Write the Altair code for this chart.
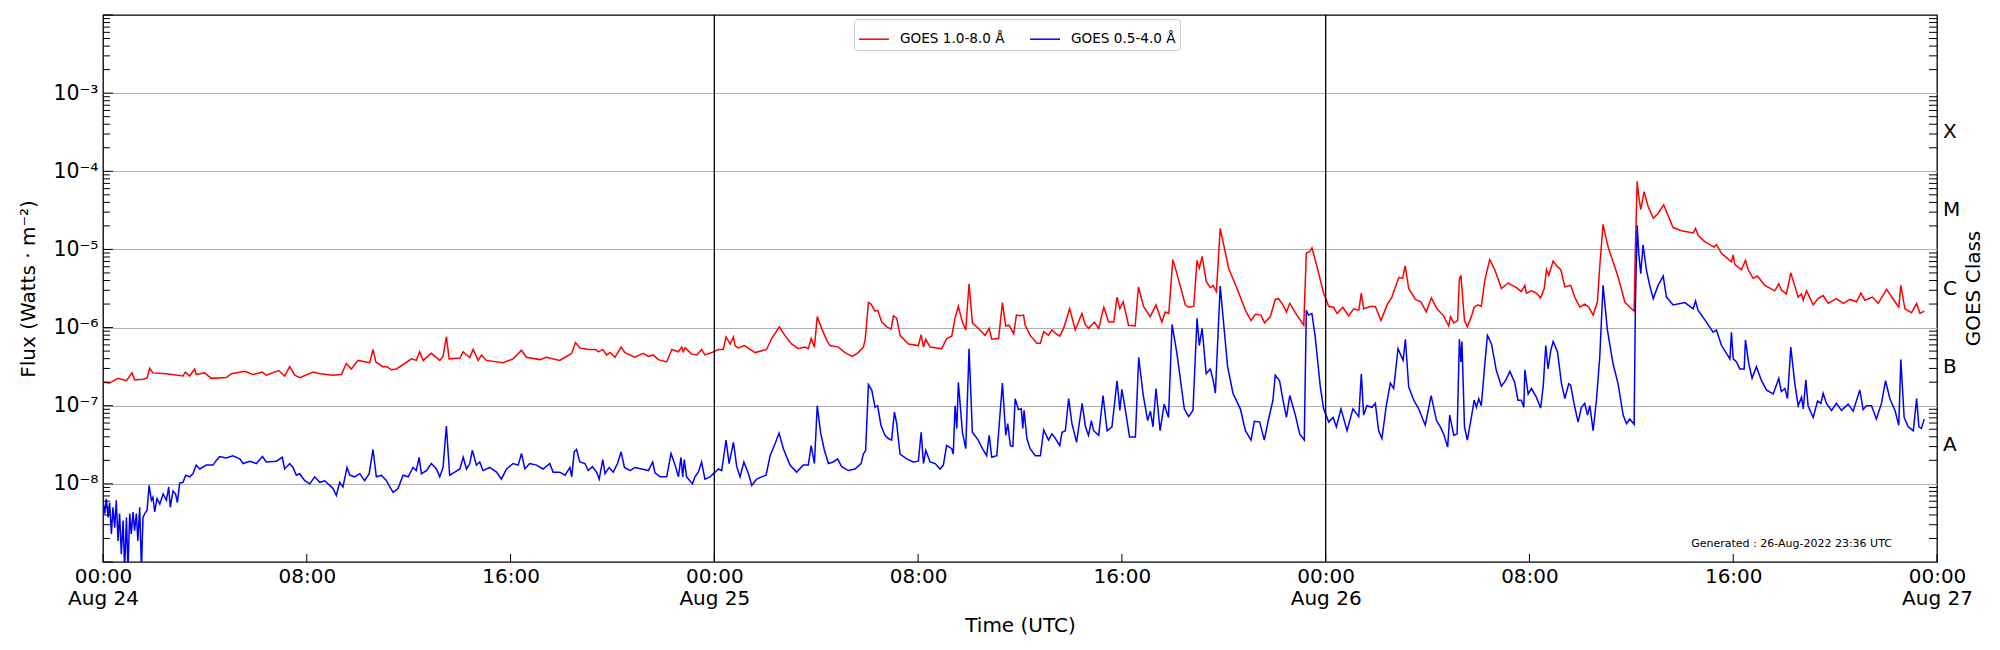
import altair as alt
import pandas as pd

# ---- data: (hours since 2022-08-24 00:00 UTC, log10 flux [W m^-2]) ----
RED = [
(0.00,-6.70),(0.26,-6.71),(0.59,-6.65),(0.92,-6.68),(1.14,-6.58),(1.24,-6.67),(1.57,-6.66),(1.74,-6.64),(1.83,-6.52),(1.96,-6.58),
(2.49,-6.59),(3.14,-6.62),(3.23,-6.57),(3.40,-6.62),(3.60,-6.53),(3.66,-6.60),(3.99,-6.58),(4.25,-6.65),(4.84,-6.64),(5.04,-6.59),
(5.56,-6.56),(5.89,-6.60),(6.26,-6.57),(6.41,-6.61),(6.90,-6.55),(7.13,-6.62),(7.33,-6.50),(7.53,-6.61),(7.72,-6.64),(8.25,-6.57),
(8.51,-6.59),(9.03,-6.61),(9.36,-6.60),(9.55,-6.46),(9.75,-6.53),(10.01,-6.42),(10.47,-6.45),(10.60,-6.28),(10.71,-6.44),(10.99,-6.50),
(11.15,-6.50),(11.32,-6.54),(11.52,-6.53),(12.11,-6.40),(12.30,-6.42),(12.43,-6.31),(12.57,-6.42),(12.89,-6.33),(13.22,-6.42),(13.35,-6.37),
(13.48,-6.12),(13.59,-6.40),(14.01,-6.39),(14.14,-6.31),(14.27,-6.35),(14.40,-6.38),(14.53,-6.28),(14.73,-6.42),(14.86,-6.35),(15.05,-6.42),
(15.71,-6.45),(16.10,-6.40),(16.43,-6.29),(16.62,-6.38),(17.15,-6.41),(17.41,-6.38),(17.93,-6.42),
(18.14,-6.38),(18.40,-6.33),(18.55,-6.19),(18.72,-6.26),(19.05,-6.28),(19.34,-6.28),(19.45,-6.31),(19.62,-6.28),(19.77,-6.35),(19.91,-6.32),
(20.10,-6.38),(20.34,-6.25),(20.49,-6.32),(20.88,-6.38),(21.21,-6.33),(21.41,-6.37),(21.60,-6.35),(21.80,-6.41),(22.13,-6.44),(22.33,-6.28),
(22.59,-6.31),(22.72,-6.25),(22.78,-6.31),(22.85,-6.26),(23.11,-6.34),(23.31,-6.35),(23.50,-6.28),(23.63,-6.35),(23.90,-6.32),(24.16,-6.28),
(24.35,-6.28),(24.46,-6.12),(24.62,-6.21),(24.75,-6.12),(24.81,-6.23),(24.94,-6.26),(25.18,-6.23),(25.60,-6.32),(26.05,-6.28),(26.25,-6.14),
(26.55,-5.99),(26.77,-6.10),(27.03,-6.21),(27.30,-6.27),(27.56,-6.25),(27.69,-6.27),(27.80,-6.14),(27.93,-6.25),(28.04,-5.86),(28.21,-6.01),
(28.41,-6.16),(28.54,-6.23),(28.87,-6.25),(29.13,-6.32),(29.42,-6.37),(29.65,-6.32),(29.85,-6.25),(29.92,-6.16),(30.05,-5.68),(30.15,-5.70),
(30.31,-5.79),(30.42,-5.78),(30.57,-5.93),(30.77,-5.99),(30.94,-6.02),(31.03,-5.85),(31.16,-5.88),(31.29,-6.10),(31.62,-6.21),(32.01,-6.23),
(32.12,-6.09),(32.21,-6.25),(32.30,-6.15),(32.47,-6.25),(32.93,-6.27),(33.12,-6.14),(33.32,-6.11),(33.45,-5.88),(33.58,-5.73),(33.74,-5.93),
(33.87,-6.03),(34.00,-5.44),(34.13,-5.94),(34.43,-6.03),(34.63,-6.10),(34.79,-6.01),(34.89,-6.15),(35.16,-6.14),(35.31,-5.68),(35.44,-5.98),
(35.57,-5.97),
(35.75,-6.08),(35.86,-5.84),(36.01,-5.85),(36.14,-5.84),(36.20,-5.97),(36.40,-6.10),(36.66,-6.20),(36.80,-6.20),(36.93,-6.05),(37.12,-6.10),
(37.25,-6.03),(37.38,-6.07),(37.56,-6.11),(37.71,-6.01),(37.95,-5.76),(38.17,-6.03),(38.43,-5.82),(38.56,-5.96),(38.69,-6.01),(38.92,-5.93),
(39.09,-6.01),(39.29,-5.74),(39.48,-5.93),(39.68,-5.93),(39.81,-5.61),(39.92,-5.76),(40.05,-5.67),(40.26,-5.97),(40.52,-5.98),(40.65,-5.48),
(40.85,-5.73),(41.11,-5.86),(41.34,-5.71),(41.57,-5.93),(41.70,-5.80),(41.84,-5.82),(42.00,-5.13),(42.16,-5.31),(42.49,-5.71),(42.62,-5.74),
(42.82,-5.73),(42.95,-5.14),(43.04,-5.24),(43.15,-5.09),(43.31,-5.41),(43.47,-5.49),(43.58,-5.46),(43.71,-5.54),(43.86,-4.73),(44.19,-5.24),
(44.52,-5.50),(44.85,-5.78),(45.07,-5.91),(45.24,-5.83),(45.46,-5.84),(45.60,-5.94),(45.83,-5.86),(46.02,-5.64),(46.15,-5.63),(46.32,-5.71),
(46.46,-5.80),(46.59,-5.69),(46.87,-5.84),(47.14,-5.97),(47.24,-5.05),(47.37,-5.03),(47.46,-4.98),(47.66,-5.22),(47.92,-5.56),(48.12,-5.73),
(48.31,-5.74),(48.45,-5.82),(48.67,-5.74),(48.90,-5.85),(49.10,-5.76),(49.30,-5.78),(49.40,-5.56),(49.49,-5.76),(49.75,-5.73),(49.95,-5.73),
(50.17,-5.91),(50.41,-5.71),(50.60,-5.61),(50.87,-5.36),(51.02,-5.37),(51.12,-5.21),(51.26,-5.50),(51.52,-5.64),(51.74,-5.67),(51.95,-5.80),
(52.15,-5.62),(52.37,-5.76),(52.63,-5.85),(52.83,-5.98),(52.90,-5.86),(53.03,-5.94),(53.18,-5.91),(53.25,-5.38),(53.31,-5.33),(53.45,-5.91),
(53.56,-5.99),(53.72,-5.86),(53.83,-5.74),(53.98,-5.71),(54.11,-5.73),(54.25,-5.39),(54.44,-5.13),(54.64,-5.26),(54.90,-5.50),(55.16,-5.43),
(55.49,-5.49),(55.68,-5.54),(55.82,-5.46),(55.88,-5.56),(56.08,-5.53),(56.27,-5.56),(56.44,-5.62),(56.58,-5.50),(56.67,-5.26),(56.76,-5.33),
(56.93,-5.15),(57.10,-5.22),(57.23,-5.26),(57.39,-5.48),(57.62,-5.46),(57.78,-5.61),(57.98,-5.74),(58.17,-5.70),(58.33,-5.74),(58.50,-5.84),
(58.67,-5.67),(58.76,-5.22),(58.89,-4.68),(59.09,-4.97),(59.48,-5.35),(59.74,-5.67),(59.94,-5.74),(60.11,-5.79),(60.16,-4.97),(60.23,-4.13),
(60.29,-4.32),(60.37,-4.49),(60.50,-4.26),(60.66,-4.45),(60.86,-4.60),(61.05,-4.54),(61.27,-4.43),(61.64,-4.72),(61.97,-4.76),(62.43,-4.79),
(62.52,-4.73),(62.62,-4.82),(62.88,-4.90),(63.25,-4.97),(63.34,-4.94),(63.54,-5.05),(63.93,-5.16),(64.00,-5.07),(64.06,-5.19),(64.32,-5.26),
(64.48,-5.14),(64.59,-5.26),(64.78,-5.37),(64.95,-5.34),(65.24,-5.46),(65.63,-5.53),(65.79,-5.44),(65.89,-5.52),(66.09,-5.57),(66.26,-5.30),
(66.55,-5.61),(66.68,-5.57),(66.75,-5.65),(66.88,-5.53),(67.14,-5.71),(67.33,-5.63),(67.53,-5.59),(67.73,-5.69),(68.05,-5.63),(68.32,-5.69),
(68.58,-5.64),(68.84,-5.67),(69.01,-5.56),(69.17,-5.65),(69.46,-5.61),(69.69,-5.69),(70.02,-5.51),(70.35,-5.67),(70.50,-5.74),(70.58,-5.46),
(70.74,-5.76),(71.00,-5.81),(71.20,-5.69),(71.33,-5.82),(71.50,-5.79),
]

BLUE = [
(0.00,-8.21),(0.07,-8.38),(0.13,-8.19),(0.20,-8.43),(0.26,-8.24),(0.33,-8.64),(0.39,-8.30),(0.46,-8.56),(0.52,-8.21),(0.59,-8.73),
(0.65,-8.38),(0.72,-8.90),(0.79,-8.47),(0.85,-9.10),(0.92,-8.43),(0.98,-9.10),(1.05,-8.38),(1.11,-8.64),(1.18,-8.36),(1.24,-8.60),
(1.31,-8.38),(1.37,-8.73),(1.44,-8.30),(1.51,-9.10),(1.57,-8.43),(1.64,-8.38),(1.73,-8.34),(1.81,-8.02),(1.90,-8.21),(1.96,-8.17),
(2.03,-8.36),(2.12,-8.19),(2.23,-8.26),(2.36,-8.13),(2.49,-8.21),(2.58,-8.04),(2.64,-8.30),(2.75,-8.09),(2.85,-8.13),(2.92,-8.24),
(3.01,-7.99),(3.14,-7.98),(3.25,-7.89),(3.40,-7.91),(3.53,-7.87),(3.66,-7.76),(3.80,-7.81),(4.06,-7.76),(4.32,-7.76),(4.45,-7.70),
(4.58,-7.65),(4.84,-7.67),(5.10,-7.64),(5.37,-7.68),(5.50,-7.74),(5.76,-7.71),(6.02,-7.74),(6.26,-7.65),(6.41,-7.72),(6.81,-7.71),
(7.04,-7.66),(7.13,-7.81),(7.33,-7.74),(7.46,-7.79),(7.59,-7.89),(7.72,-7.87),(7.92,-7.96),(8.12,-8.00),(8.31,-7.91),(8.51,-7.98),
(8.70,-7.96),(8.90,-8.02),(9.03,-8.06),(9.16,-8.15),(9.29,-7.98),(9.42,-8.04),(9.58,-7.79),(9.69,-7.89),(9.88,-7.91),(10.08,-7.87),
(10.27,-7.96),(10.45,-7.87),(10.60,-7.56),(10.73,-7.91),(10.93,-7.89),(11.13,-7.96),(11.26,-8.04),(11.39,-8.11),(11.58,-8.06),(11.78,-7.89),
(11.98,-7.91),(12.17,-7.79),(12.30,-7.83),(12.41,-7.66),(12.50,-7.87),(12.70,-7.83),(12.89,-7.74),(13.09,-7.81),(13.22,-7.91),(13.35,-7.79),
(13.48,-7.26),(13.61,-7.89),(13.81,-7.85),(14.01,-7.81),(14.14,-7.66),(14.27,-7.81),(14.40,-7.74),(14.50,-7.57),(14.66,-7.76),(14.79,-7.72),
(14.92,-7.83),(15.18,-7.79),(15.45,-7.85),(15.64,-7.94),(15.84,-7.81),(16.10,-7.74),(16.30,-7.76),(16.43,-7.61),(16.56,-7.81),(16.75,-7.74),
(17.02,-7.76),(17.28,-7.81),(17.54,-7.74),(17.67,-7.85),(17.93,-7.85),
(18.14,-7.89),(18.33,-7.79),(18.40,-7.91),(18.50,-7.59),(18.59,-7.56),(18.72,-7.72),(18.92,-7.74),(19.05,-7.83),(19.21,-7.78),(19.38,-7.85),
(19.48,-7.94),(19.62,-7.69),(19.71,-7.87),(19.87,-7.79),(20.03,-7.85),(20.20,-7.74),(20.34,-7.59),(20.47,-7.79),(20.69,-7.83),(20.88,-7.79),
(21.15,-7.81),(21.41,-7.83),(21.58,-7.72),(21.67,-7.86),(21.87,-7.91),(22.13,-7.91),(22.30,-7.61),(22.46,-7.76),(22.59,-7.91),(22.69,-7.66),
(22.76,-7.91),(22.82,-7.69),(22.91,-7.91),(23.14,-8.00),(23.24,-7.91),(23.37,-7.85),(23.50,-7.72),(23.63,-7.94),(23.83,-7.91),(24.00,-7.86),
(24.16,-7.81),(24.29,-7.83),(24.46,-7.44),(24.58,-7.74),(24.75,-7.47),(24.88,-7.78),(25.01,-7.91),(25.16,-7.72),(25.34,-7.87),(25.47,-8.02),
(25.66,-7.94),(25.86,-7.91),(26.03,-7.89),(26.19,-7.64),(26.38,-7.49),(26.54,-7.35),(26.71,-7.55),(26.97,-7.76),(27.23,-7.85),(27.49,-7.76),
(27.69,-7.76),(27.80,-7.51),(27.93,-7.74),(28.04,-7.00),(28.17,-7.34),(28.32,-7.57),(28.48,-7.74),(28.67,-7.72),(28.84,-7.68),(29.00,-7.78),
(29.26,-7.83),(29.52,-7.81),(29.76,-7.74),(29.85,-7.62),(29.94,-7.57),(30.05,-6.73),(30.18,-6.80),(30.31,-7.02),(30.41,-7.00),(30.54,-7.25),
(30.70,-7.38),(30.83,-7.42),(30.96,-7.44),(31.07,-7.08),(31.16,-7.23),(31.29,-7.62),(31.55,-7.68),(31.81,-7.72),(32.01,-7.71),(32.12,-7.34),
(32.21,-7.74),(32.30,-7.57),(32.47,-7.72),(32.67,-7.74),(32.86,-7.81),(32.99,-7.76),(33.12,-7.51),(33.32,-7.55),(33.38,-7.62),(33.45,-7.00),
(33.52,-7.29),(33.58,-6.70),(33.74,-7.34),(33.87,-7.55),(34.00,-6.27),(34.13,-7.34),(34.36,-7.44),(34.56,-7.57),(34.69,-7.64),(34.79,-7.38),
(34.89,-7.66),(35.09,-7.64),(35.31,-6.71),(35.44,-7.38),(35.52,-7.23),
(35.62,-7.51),(35.72,-7.52),(35.81,-6.91),(35.94,-7.05),(36.05,-7.04),(36.11,-7.29),(36.16,-7.06),(36.27,-7.42),(36.40,-7.55),(36.60,-7.64),
(36.80,-7.64),(36.93,-7.31),(37.12,-7.44),(37.25,-7.36),(37.35,-7.40),(37.56,-7.51),(37.65,-7.34),(37.78,-7.32),(37.91,-6.91),(38.04,-7.23),
(38.22,-7.47),(38.44,-6.97),(38.57,-7.27),(38.69,-7.38),(38.80,-7.19),(38.89,-7.32),(39.09,-7.38),(39.26,-6.87),(39.42,-7.32),(39.61,-7.27),
(39.81,-6.68),(39.92,-7.06),(40.00,-6.79),(40.13,-7.04),(40.30,-7.40),(40.53,-7.40),(40.66,-6.38),(40.83,-6.85),(41.01,-7.19),(41.12,-7.07),
(41.22,-7.27),(41.34,-6.78),(41.50,-7.32),(41.66,-6.98),(41.83,-7.15),(41.97,-5.96),(42.16,-6.33),(42.45,-7.04),(42.62,-7.14),(42.79,-7.06),
(42.95,-5.88),(43.04,-6.23),(43.15,-6.01),(43.31,-6.59),(43.47,-6.53),(43.58,-6.67),(43.67,-6.84),(43.86,-5.47),(44.15,-6.50),(44.36,-6.84),
(44.65,-7.04),(44.85,-7.32),(45.07,-7.44),(45.20,-7.20),(45.41,-7.21),(45.59,-7.44),(45.76,-7.17),(45.93,-6.93),(46.02,-6.61),(46.19,-6.68),
(46.32,-6.92),(46.46,-7.15),(46.59,-6.87),(46.81,-7.12),(46.98,-7.36),(47.16,-7.44),(47.24,-5.78),(47.33,-5.84),(47.46,-5.82),(47.59,-6.12),
(47.79,-6.76),(47.92,-7.04),(48.12,-7.21),(48.29,-7.15),(48.42,-7.27),(48.60,-7.04),(48.84,-7.32),(49.07,-7.04),(49.30,-7.14),(49.40,-6.59),
(49.49,-7.12),(49.62,-7.00),(49.82,-7.02),(49.95,-6.97),(50.08,-7.32),(50.21,-7.42),(50.38,-7.00),(50.54,-6.71),(50.67,-6.78),(50.84,-6.27),
(51.04,-6.42),(51.13,-6.15),(51.26,-6.76),(51.46,-6.93),(51.65,-7.04),(51.91,-7.25),(52.14,-6.87),(52.35,-7.19),(52.50,-7.27),(52.63,-7.36),
(52.79,-7.53),(52.87,-7.12),(53.03,-7.38),(53.16,-7.36),(53.25,-6.15),(53.31,-6.44),(53.35,-6.18),(53.45,-7.27),
(53.56,-7.44),(53.72,-7.15),(53.83,-6.93),(53.92,-7.02),(54.01,-6.91),(54.11,-7.00),(54.25,-6.46),(54.35,-6.10),(54.51,-6.21),(54.70,-6.55),
(54.90,-6.75),(55.06,-6.68),(55.23,-6.56),(55.42,-6.70),(55.55,-6.93),(55.68,-6.93),(55.78,-7.02),(55.82,-6.54),(55.95,-6.85),(56.08,-6.78),
(56.27,-6.89),(56.44,-7.03),(56.54,-6.75),(56.64,-6.23),(56.73,-6.53),(56.84,-6.29),(56.93,-6.18),(57.10,-6.31),(57.26,-6.72),(57.39,-6.91),
(57.54,-6.72),(57.62,-6.74),(57.78,-7.02),(57.91,-7.21),(58.04,-7.02),(58.17,-6.97),(58.28,-7.12),(58.37,-7.00),(58.50,-7.32),(58.63,-6.93),
(58.76,-6.38),(58.89,-5.46),(59.06,-6.03),(59.28,-6.46),(59.48,-6.72),(59.68,-7.12),(59.81,-7.23),(59.94,-7.17),(60.11,-7.24),(60.16,-5.69),
(60.23,-4.69),(60.29,-5.05),(60.37,-5.31),(60.46,-4.94),(60.59,-5.26),(60.72,-5.46),(60.86,-5.63),(61.05,-5.46),(61.25,-5.34),(61.38,-5.61),
(61.64,-5.71),(62.10,-5.68),(62.43,-5.76),(62.52,-5.66),(62.62,-5.78),(62.95,-5.93),(63.21,-6.06),(63.34,-6.03),(63.54,-6.23),(63.87,-6.40),
(63.93,-6.06),(64.00,-6.40),(64.13,-6.44),(64.26,-6.53),(64.43,-6.53),(64.48,-6.16),(64.61,-6.46),(64.74,-6.65),(64.91,-6.50),(65.11,-6.68),
(65.31,-6.80),(65.57,-6.85),(65.79,-6.65),(65.89,-6.82),(66.03,-6.78),(66.13,-6.91),(66.26,-6.25),(66.42,-6.72),(66.55,-7.00),(66.68,-6.89),
(66.75,-7.04),(66.85,-6.67),(66.94,-7.00),(67.14,-7.15),(67.31,-6.94),(67.44,-6.97),(67.53,-6.84),(67.66,-6.97),(67.86,-7.06),(68.05,-6.97),
(68.25,-7.06),(68.51,-6.98),(68.71,-7.07),(68.97,-6.80),(69.10,-7.05),(69.23,-7.00),(69.43,-7.00),(69.62,-7.17),(69.82,-6.97),(69.98,-6.68),
(70.15,-6.91),(70.35,-7.06),(70.50,-7.25),(70.58,-6.41),(70.71,-7.15),(70.87,-7.27),(71.07,-7.32),(71.20,-6.91),(71.29,-7.27),(71.39,-7.29),
(71.50,-7.17),
]

SERIES_NAMES = ["GOES 1.0-8.0 Å", "GOES 0.5-4.0 Å"]
SERIES_COLORS = ["#ff0000", "#0000ff"]

DAY_LINES = [24, 48]                       # hours: Aug 25 00:00, Aug 26 00:00
X_TICKS = [0, 8, 16, 24, 32, 40, 48, 56, 64, 72]
Y_LABEL_DECADES = [1e-8, 1e-7, 1e-6, 1e-5, 1e-4, 1e-3]
MAJOR_TICKS = [10.0 ** k for k in range(-9, -1)]
MINOR_TICKS = [m * 10.0 ** k for k in range(-9, -2) for m in range(2, 10)]
CLASS_LABELS = ["A", "B", "C", "M", "X"]
CLASS_POS = [10 ** -7.5, 10 ** -6.5, 10 ** -5.5, 10 ** -4.5, 10 ** -3.5]
GENERATED = "Generated : 26-Aug-2022 23:36 UTC"

W, H = 1834, 547
FONT = "DejaVu Sans"

rows = []
for name, pts in zip(SERIES_NAMES, [RED, BLUE]):
    for h, lg in pts:
        rows.append({"hours": h, "flux": 10.0 ** lg, "series": name})
df = pd.DataFrame(rows)

xscale = alt.Scale(domain=[0, 72], nice=False, zero=False)
yscale = alt.Scale(type="log", domain=[1e-9, 1e-2], nice=False)

sup = "['⁰','¹','²','³','⁴','⁵','⁶','⁷','⁸','⁹']"
y_axis = alt.Axis(
    values=Y_LABEL_DECADES,
    labelExpr="'10⁻' + " + sup + "[-round(log(datum.value)/LN10)]",
    ticks=False, domain=False, grid=True, gridColor="#b0b0b0", gridWidth=1,
    labelFont=FONT, labelFontSize=20.5, labelColor="black", labelPadding=5,
    title="Flux (Watts · m⁻²)", titleFont=FONT, titleFontSize=20, titleFontWeight="normal",
    titleColor="black", titleX=-75, titleY=H / 2, titleAngle=270,
    titleAlign="center", titleBaseline="middle",
)
x_axis = alt.Axis(
    values=X_TICKS,
    labelExpr="datum.value % 24 == 0 ? ['00:00', 'Aug ' + (24 + datum.value/24)] : (datum.value % 24 == 8 ? '08:00' : '16:00')",
    ticks=False, domain=False, grid=False, labelFlush=False, labelOverlap=False, labelBound=False,
    labelFont=FONT, labelFontSize=20, labelColor="black", labelPadding=4, labelLineHeight=22,
    title="Time (UTC)", titleFont=FONT, titleFontSize=20, titleFontWeight="normal", titleColor="black",
    titleY=63, titleBaseline="middle",
)

def X():
    return alt.X("hours:Q", scale=xscale, axis=x_axis)

def Y():
    return alt.Y("flux:Q", scale=yscale, axis=y_axis)

lines = alt.Chart(df).mark_line(strokeWidth=1.5, clip=True).encode(
    x=X(), y=Y(),
    color=alt.Color("series:N", sort=SERIES_NAMES,
                    scale=alt.Scale(domain=SERIES_NAMES, range=SERIES_COLORS),
                    legend=alt.Legend(title=None, orient="none", legendX=751, legendY=4,
                                      direction="horizontal", symbolType="stroke", symbolSize=900,
                                      symbolStrokeWidth=1.5, labelFont=FONT, labelFontSize=13.6,
                                      labelColor="black", labelOffset=10, columnPadding=22, padding=4,
                                      strokeColor="#cccccc", fillColor="white", cornerRadius=3)),
)

vlines = alt.Chart(pd.DataFrame({"hours": DAY_LINES})).mark_rule(color="black", strokeWidth=1.3).encode(x=X())

left_major = alt.Chart(pd.DataFrame({"flux": MAJOR_TICKS})).mark_rule(color="black", strokeWidth=1).encode(
    y=Y(), x=alt.value(0), x2=alt.value(10))
left_minor = alt.Chart(pd.DataFrame({"flux": MINOR_TICKS})).mark_rule(color="black", strokeWidth=1).encode(
    y=Y(), x=alt.value(0), x2=alt.value(7))
right_minor = alt.Chart(pd.DataFrame({"flux": MINOR_TICKS})).mark_rule(color="black", strokeWidth=1).encode(
    y=Y(), x=alt.value(W - 8), x2=alt.value(W))
bottom_ticks = alt.Chart(pd.DataFrame({"hours": X_TICKS})).mark_rule(color="black", strokeWidth=1).encode(
    x=X(), y=alt.value(H), y2=alt.value(H - 8))

class_text = alt.Chart(pd.DataFrame({"flux": CLASS_POS, "label": CLASS_LABELS})).mark_text(
    align="left", baseline="middle", font=FONT, fontSize=20, color="black").encode(
    y=Y(), x=alt.value(W + 6), text="label:N")
class_title = alt.Chart(pd.DataFrame({"t": ["GOES Class"]})).mark_text(
    angle=270, align="center", baseline="middle", font=FONT, fontSize=20, color="black").encode(
    x=alt.value(W + 37), y=alt.value(H / 2), text="t:N")
gen_text = alt.Chart(pd.DataFrame({"hours": [70.23], "flux": [10 ** -8.77], "t": [GENERATED]})).mark_text(
    align="right", baseline="middle", font=FONT, fontSize=11, color="black").encode(
    x=X(), y=Y(), text="t:N")

chart = alt.layer(
    lines, vlines, left_major, left_minor, right_minor, bottom_ticks, class_text, class_title, gen_text
).properties(
    width=W, height=H,
    autosize=alt.AutoSizeParams(type="none"),
    padding={"left": 95, "top": 7, "right": 50, "bottom": 76},
).configure(
    font=FONT,
    view=alt.ViewConfig(stroke="black", strokeWidth=1.3),
)

chart.save("out.html", embed_options={"renderer": "svg", "actions": False})
